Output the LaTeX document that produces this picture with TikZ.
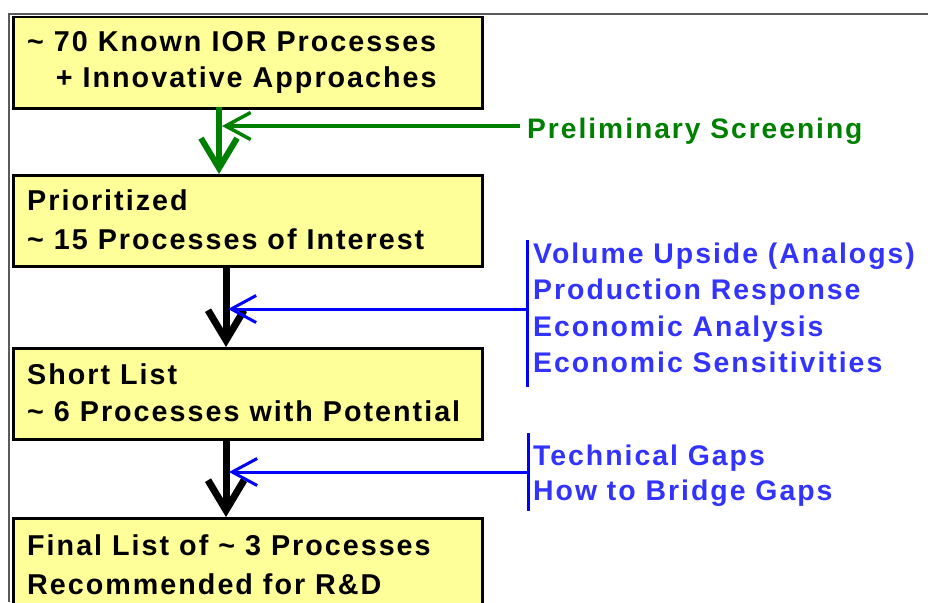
\documentclass[tikz,border=0pt]{standalone}
\usepackage{fontspec}
\setmainfont{Liberation Sans}[LetterSpace=7]
\usetikzlibrary{arrows.meta}
\definecolor{boxfill}{RGB}{255,255,153}
\definecolor{dgreen}{RGB}{0,128,0}
\definecolor{txtblue}{RGB}{51,51,255}
\definecolor{lineblue}{RGB}{0,0,255}
\definecolor{framegray}{RGB}{90,90,90}
\begin{document}
\begin{tikzpicture}[x=1pt,y=-1pt,
  stagebox/.style={draw=black, line width=2.5pt, fill=boxfill, minimum width=469pt, minimum height=91pt, inner sep=0pt, anchor=north west},
  boxtxt/.style={anchor=base west, inner sep=0pt, font=\bfseries\fontsize{28.7}{34}\selectfont},
  bluetxt/.style={anchor=base west, inner sep=0pt, font=\bfseries\fontsize{28.4}{34}\selectfont, text=txtblue},
  greentxt/.style={anchor=base west, inner sep=0pt, font=\bfseries\fontsize{28.2}{34}\selectfont, text=dgreen},
  bigarrow/.style={line width=7pt, -{Straight Barb[length=30pt,width=36pt]}},
  thinarrow/.style={line width=3.5pt, -{Straight Barb[length=25pt,width=27pt]}},
  bracketline/.style={draw=lineblue, line width=3pt}
]
\useasboundingbox (0,0) rectangle (928,602);
\clip (0,0) rectangle (928,602);
% frame
\draw[framegray, line width=2pt] (9,602) -- (9,14) -- (928,14);
% boxes
\node[stagebox] (b1) at (12,16) {};
\node[stagebox] (b2) at (12,174) {};
\node[stagebox] (b3) at (12,347) {};
\node[stagebox] (b4) at (12,517) {};
% box texts
\node[boxtxt] (t1a) at (27,52) {\textasciitilde\ 70 Known IOR Processes};
\node[boxtxt] (t1b) at (29,87) {\phantom{\textasciitilde}\ + Innovative Approaches};
\node[boxtxt] (t2a) at (27,210) {Prioritized};
\node[boxtxt] (t2b) at (27,249) {\textasciitilde\ 15 Processes of Interest};
\node[boxtxt] (t3a) at (27,384) {Short List};
\node[boxtxt] (t3b) at (27,421) {\textasciitilde\ 6 Processes with Potential};
\node[boxtxt] (t4a) at (27,555) {Final List of \textasciitilde\ 3 Processes};
\node[boxtxt] (t4b) at (27,594) {Recommended for R\&D};
% side texts
\node[greentxt] (g) at (527,138) {Preliminary Screening};
\node[bluetxt] (v1) at (533,263) {Volume Upside (Analogs)};
\node[bluetxt] (v2) at (533,299) {Production Response};
\node[bluetxt] (v3) at (533,336) {Economic Analysis};
\node[bluetxt] (v4) at (533,372) {Economic Sensitivities};
\node[bluetxt] (w1) at (533,465) {Technical Gaps};
\node[bluetxt] (w2) at (533,500) {How to Bridge Gaps};
% vertical arrows
\coordinate (a1s) at (219,107);
\coordinate (a2s) at (226,265);
\coordinate (a3s) at (226,439);
\draw[dgreen, bigarrow, line width=6pt] (a1s) -- (a1s |- b2.north);
\draw[black, bigarrow] (a2s) -- (a2s |- b3.north);
\draw[black, bigarrow] (a3s) -- (a3s |- b4.north);
% screening arrows
\coordinate (gs) at (520,126);
\coordinate (ge) at (222,126);
\draw[dgreen, thinarrow] (gs) -- (ge);
\coordinate (k1t) at (527,240);
\coordinate (k1b) at (527,387);
\coordinate (k1m) at (527,309);
\coordinate (k1e) at (228,309);
\draw[bracketline] (k1t) -- (k1b);
\draw[lineblue, thinarrow, line width=3pt] (k1m) -- (k1e);
\coordinate (k2t) at (528,433);
\coordinate (k2b) at (528,511);
\coordinate (k2m) at (528,472);
\coordinate (k2e) at (229,472);
\draw[bracketline] (k2t) -- (k2b);
\draw[lineblue, thinarrow, line width=3pt] (k2m) -- (k2e);
\end{tikzpicture}
\end{document}
